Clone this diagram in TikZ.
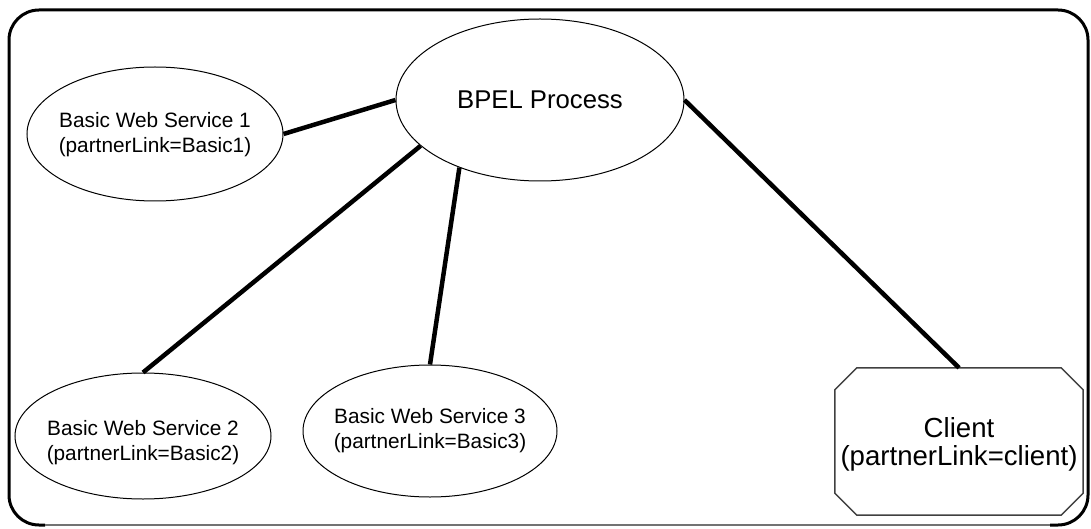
\documentclass[tikz,border=0pt]{standalone}
\usepackage{fontspec}
\setmainfont{Liberation Sans}
\usetikzlibrary{shapes.geometric,calc}
\begin{document}
\begin{tikzpicture}[x=1pt,y=-1pt,
  svc/.style={draw=black, line width=1pt, ellipse, inner sep=0pt},
  svctext/.style={align=center, inner sep=0pt, font=\fontsize{20.8}{25}\selectfont},
  link/.style={line width=4.5pt, line cap=butt},
  frame/.style={line width=3pt, rounded corners=30pt},
]
\useasboundingbox (0,0) rectangle (1091,529);

% outer frame: heavy top and sides, faint bottom edge
\draw[frame] (45,525) -- (9,525) -- (9,10) -- (1088,10) -- (1088,525) -- (1050,525);
\draw[line width=1.5pt, black!55] (45,525) -- (1050,525);

% services
\node[svc, minimum width=288pt, minimum height=162pt] (bpel) at (540,100) {};
\node[svctext, font=\fontsize{25.7}{30}\selectfont] (bpelt) at (540,100) {BPEL Process};

\node[svc, minimum width=256pt, minimum height=134pt] (b1) at (155,134) {};
\node[svctext] (b1t) at (155,135) {Basic Web Service 1\\(partnerLink=Basic1)};

\node[svc, minimum width=256pt, minimum height=126pt] (b2) at (143,436) {};
\node[svctext] (b2t) at (143,443) {Basic Web Service 2\\(partnerLink=Basic2)};

\node[svc, minimum width=254pt, minimum height=132pt] (b3) at (430,431) {};
\node[svctext] (b3t) at (430,431) {Basic Web Service 3\\(partnerLink=Basic3)};

% client: chamfered box
\node[minimum width=248pt, minimum height=147pt, inner sep=0pt] (client) at (959,441.5) {};
\draw[line width=1.5pt, black!75]
  ($(client.north west)+(22,0)$) -- ($(client.north east)+(-22,0)$)
  -- ($(client.north east)+(0,22)$) -- ($(client.south east)+(0,-22)$)
  -- ($(client.south east)+(-22,0)$) -- ($(client.south west)+(22,0)$)
  -- ($(client.south west)+(0,-22)$) -- ($(client.north west)+(0,22)$) -- cycle;
\node[svctext, font=\fontsize{27.6}{28}\selectfont] (clientt) at (959,444) {Client\\(partnerLink=client)};

% partner links
\draw[link] (b1.east) -- (bpel.west);
\draw[link] (bpel.201) -- (b2.north);
\draw[link] (bpel.220) -- (b3.north);
\draw[link] (bpel.east) -- (client.north);
\end{tikzpicture}
\end{document}
